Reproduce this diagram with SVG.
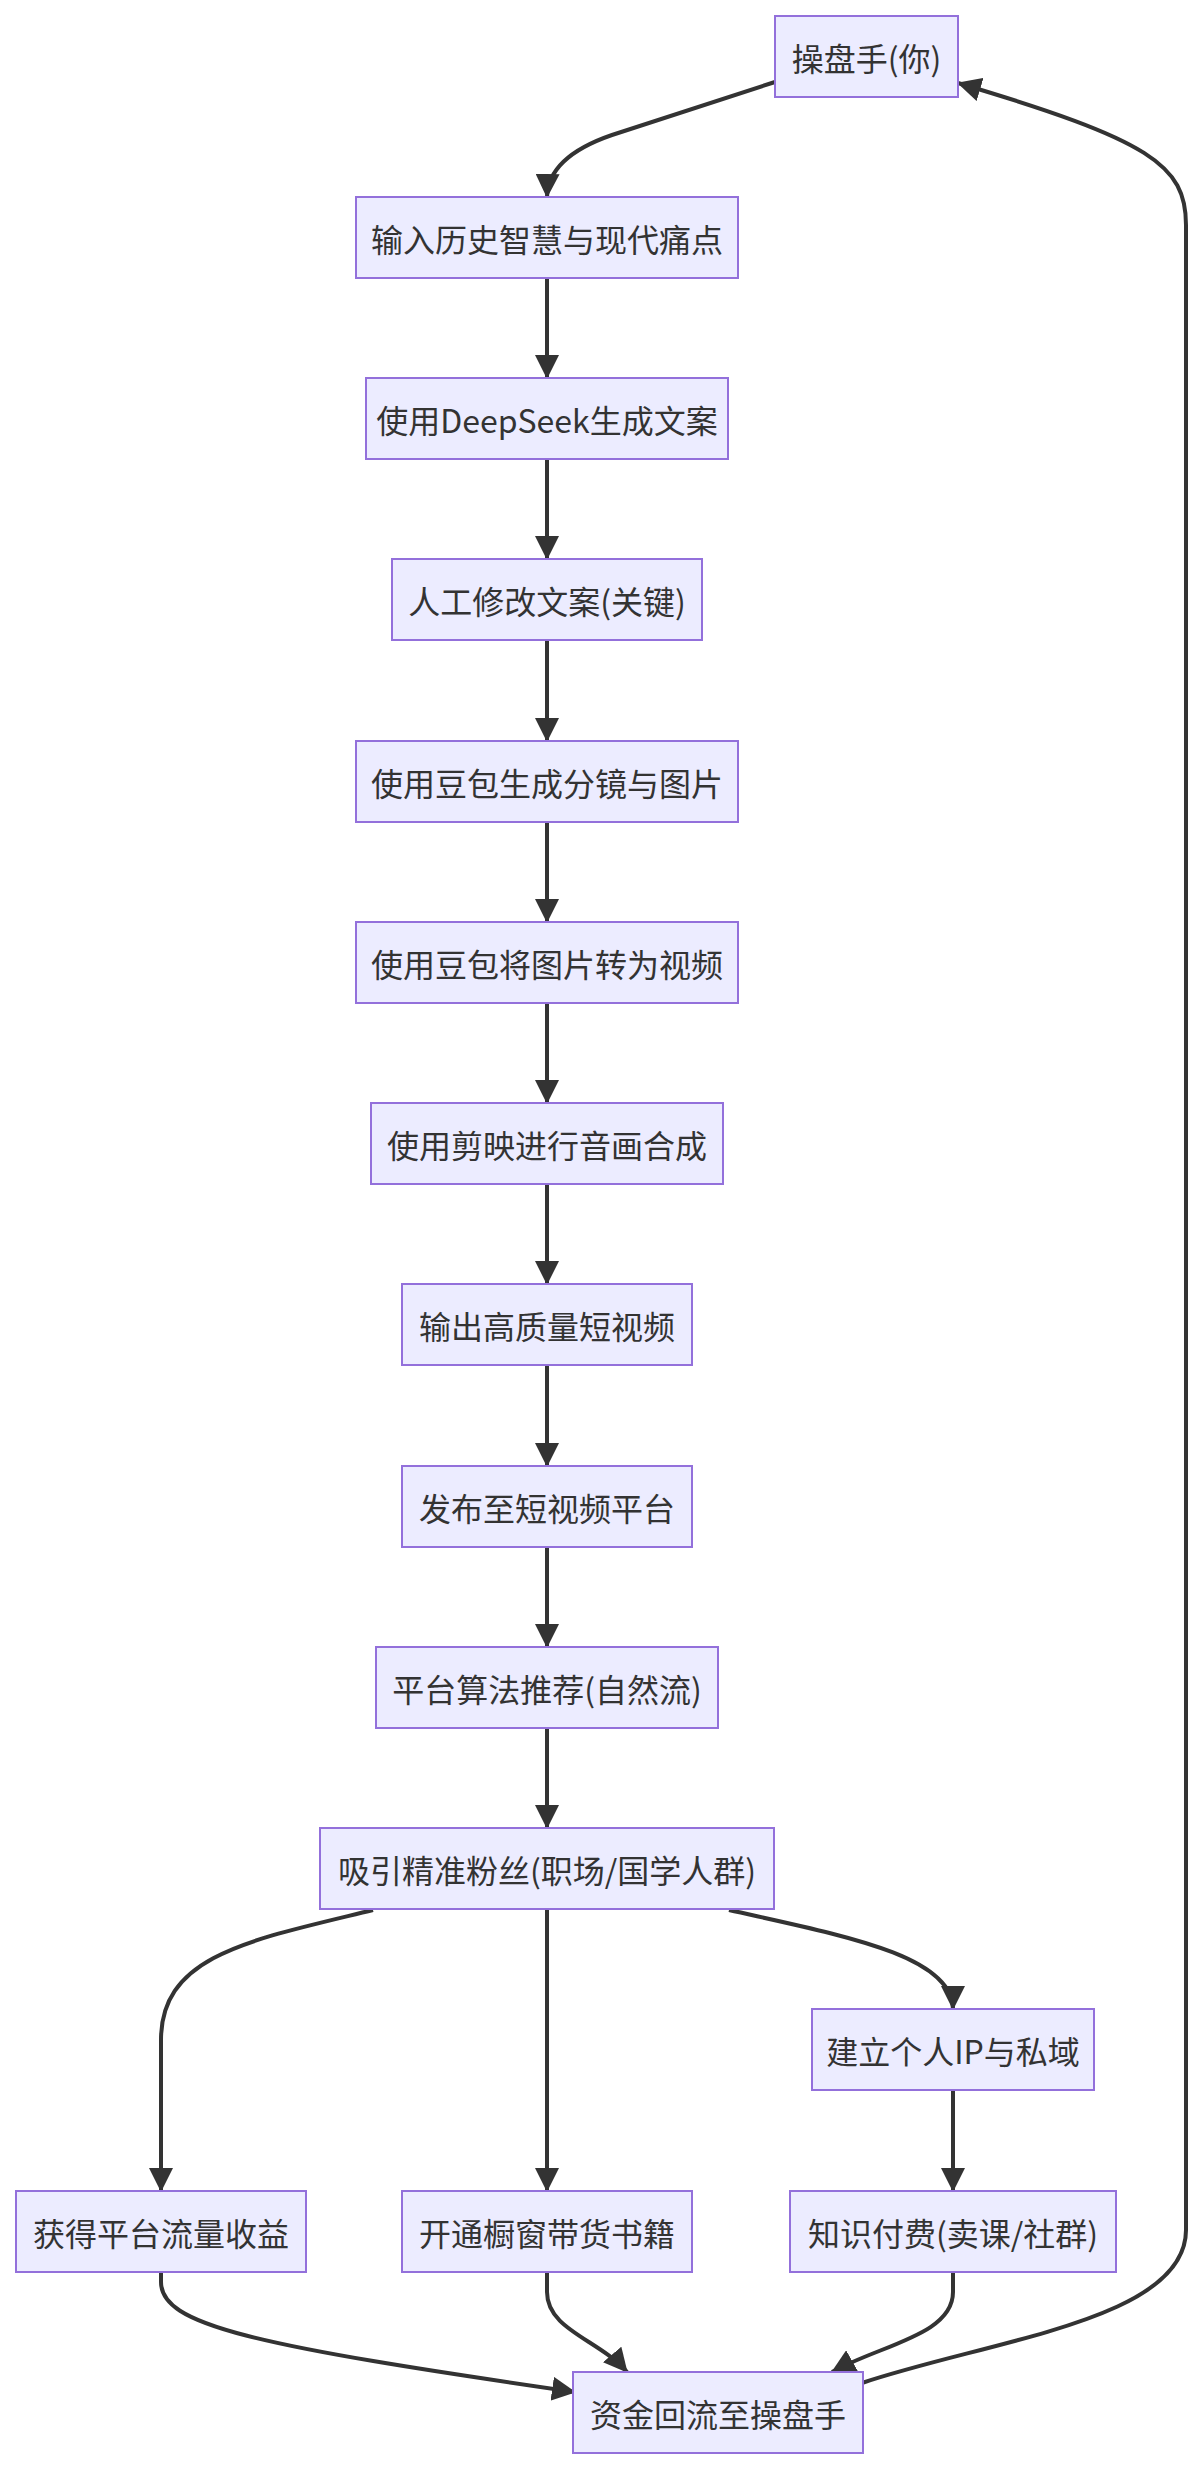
<svg xmlns="http://www.w3.org/2000/svg" width="1204" height="2470" viewBox="0 0 1204 2470">
<style>
.node rect{fill:#ECECFF;stroke:#9370DB;stroke-width:2}
.node text{fill:#333333;font-family:"Noto Sans CJK SC","Noto Sans",sans-serif;font-size:32px;text-anchor:middle;dominant-baseline:central}
.edges path{fill:none;stroke:#333333;stroke-width:4}
</style>
<defs>
<marker id="arrow" markerUnits="userSpaceOnUse" markerWidth="24" markerHeight="24" refX="23" refY="12" orient="auto">
<path d="M0,0 L24,12 L0,24 z" fill="#333333"/>
</marker>
</defs>
<rect width="1204" height="2470" fill="#ffffff"/>
<g class="edges" id="edges">
<path marker-end="url(#arrow)" d="M775,82 L612,135 Q548,157 547,197"/>
<path marker-end="url(#arrow)" d="M547,279 L547,378"/>
<path marker-end="url(#arrow)" d="M547,460 L547,559"/>
<path marker-end="url(#arrow)" d="M547,641 L547,741"/>
<path marker-end="url(#arrow)" d="M547,822 L547,922"/>
<path marker-end="url(#arrow)" d="M547,1003 L547,1103"/>
<path marker-end="url(#arrow)" d="M547,1184 L547,1284"/>
<path marker-end="url(#arrow)" d="M547,1366 L547,1466"/>
<path marker-end="url(#arrow)" d="M547,1547 L547,1647"/>
<path marker-end="url(#arrow)" d="M547,1728 L547,1828"/>
<path marker-end="url(#arrow)" d="M373,1910 C250,1940 161,1955 161,2040 L161,2191"/>
<path marker-end="url(#arrow)" d="M547,1910 L547,2191"/>
<path marker-end="url(#arrow)" d="M729,1910 C840,1935 953,1955 953,2009"/>
<path marker-end="url(#arrow)" d="M953,2091 L953,2191"/>
<path marker-end="url(#arrow)" d="M161,2272 L161,2282 C161,2325 250,2345 575,2392"/>
<path marker-end="url(#arrow)" d="M547,2272 L547,2292 C547,2330 600,2340 627,2372"/>
<path marker-end="url(#arrow)" d="M953,2272 L953,2292 C953,2335 880,2345 832,2372"/>
<path marker-end="url(#arrow)" d="M862,2383 C990,2340 1186,2320 1186,2230 L1186,225 C1186,165 1150,140 958,83"/>
</g>
<g class="node" id="n1"><rect x="775" y="16" width="183" height="81"/><text x="866.5" y="56.5">操盘手(你)</text></g>
<g class="node" id="n2"><rect x="356" y="197" width="382" height="81"/><text x="547" y="237.5">输入历史智慧与现代痛点</text></g>
<g class="node" id="n3"><rect x="366" y="378" width="362" height="81"/><text x="547" y="418.5">使用DeepSeek生成文案</text></g>
<g class="node" id="n4"><rect x="392" y="559" width="310" height="81"/><text x="547" y="599.5">人工修改文案(关键)</text></g>
<g class="node" id="n5"><rect x="356" y="741" width="382" height="81"/><text x="547" y="781.5">使用豆包生成分镜与图片</text></g>
<g class="node" id="n6"><rect x="356" y="922" width="382" height="81"/><text x="547" y="962.5">使用豆包将图片转为视频</text></g>
<g class="node" id="n7"><rect x="371" y="1103" width="352" height="81"/><text x="547" y="1143.5">使用剪映进行音画合成</text></g>
<g class="node" id="n8"><rect x="402" y="1284" width="290" height="81"/><text x="547" y="1324.5">输出高质量短视频</text></g>
<g class="node" id="n9"><rect x="402" y="1466" width="290" height="81"/><text x="547" y="1506.5">发布至短视频平台</text></g>
<g class="node" id="n10"><rect x="376" y="1647" width="342" height="81"/><text x="547" y="1687.5">平台算法推荐(自然流)</text></g>
<g class="node" id="n11"><rect x="320" y="1828" width="454" height="81"/><text x="547" y="1868.5">吸引精准粉丝(职场/国学人群)</text></g>
<g class="node" id="n12"><rect x="812" y="2009" width="282" height="81"/><text x="953" y="2049.5">建立个人IP与私域</text></g>
<g class="node" id="n13"><rect x="16" y="2191" width="290" height="81"/><text x="161" y="2231.5">获得平台流量收益</text></g>
<g class="node" id="n14"><rect x="402" y="2191" width="290" height="81"/><text x="547" y="2231.5">开通橱窗带货书籍</text></g>
<g class="node" id="n15"><rect x="790" y="2191" width="326" height="81"/><text x="953" y="2231.5">知识付费(卖课/社群)</text></g>
<g class="node" id="n16"><rect x="573" y="2372" width="290" height="81"/><text x="718" y="2412.5">资金回流至操盘手</text></g>
</svg>
